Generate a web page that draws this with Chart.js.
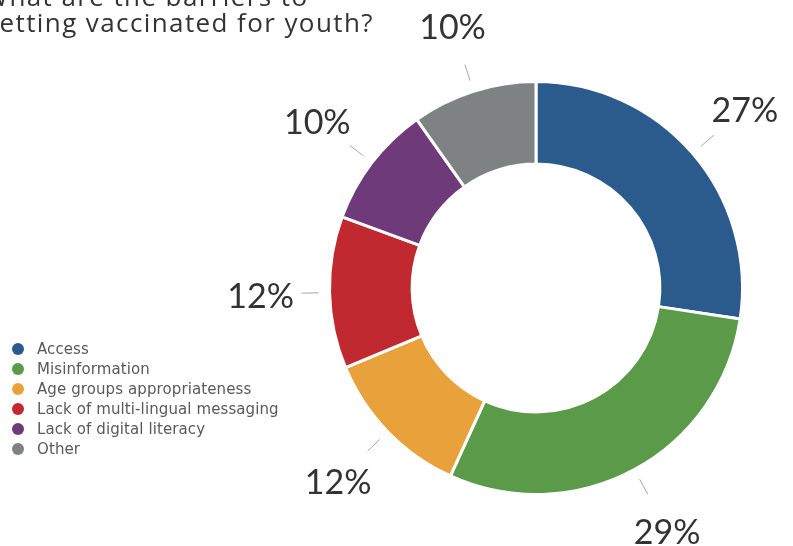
<!DOCTYPE html>
<html>
<head>
<meta charset="utf-8">
<script src="https://cdn.jsdelivr.net/npm/chart.js@4.4.1/dist/chart.umd.min.js"></script>
<style>
    html, body { margin: 0; padding: 0; background: #fff; overflow: hidden; }
    #wrap { position: relative; width: 793px; height: 546px; overflow: hidden; }
    #title {
        position: absolute; left: -16px; top: -17px;
        font-family: "Open Sans", sans-serif; font-size: 26px; line-height: 26px;
        letter-spacing: 1.4px; color: #333; white-space: nowrap;
    }
    #legend {
        position: absolute; left: 12px; top: 339px;
        font-family: "DejaVu Sans", sans-serif; font-size: 15px; color: #595959;
        letter-spacing: 0.1px; list-style: none; margin: 0; padding: 0;
    }
    #legend li { height: 20px; line-height: 20px; display: flex; align-items: center; }
    #legend span.dot { width: 12px; height: 12px; border-radius: 50%; display: inline-block; margin-right: 13px; }
</style>
</head>
<body>
<div id="wrap">
    <canvas id="barriersChart" width="793" height="546"></canvas>
    <div id="title">What are the barriers to<br>getting vaccinated for youth?</div>
    <ul id="legend"></ul>
</div>
<script>
const categories = ["Access", "Misinformation", "Age groups appropriateness", "Lack of multi-lingual messaging", "Lack of digital literacy", "Other"];
const shares = [27.4, 29.4, 11.9, 11.9, 9.6, 9.8];
const sliceColors = ["#2b5a8d", "#5b9a48", "#e9a23b", "#c0292f", "#6f3a7a", "#7e8283"];

document.addEventListener("DOMContentLoaded", () => {
    const legendEl = document.getElementById("legend");
    legendEl.innerHTML = categories.map((name, i) =>
        `<li><span class="dot" style="background:${sliceColors[i]}"></span>${name}</li>`
    ).join("");

    // percent labels outside the ring with short leader lines
    const outsideLabels = {
        id: "outsideLabels",
        afterDatasetsDraw(chart) {
            const ctx = chart.ctx;
            const arcs = chart.getDatasetMeta(0).data;
            ctx.save();
            arcs.forEach((arc, i) => {
                const mid = (arc.startAngle + arc.endAngle) / 2;
                const cx = arc.x, cy = arc.y, r = arc.outerRadius;
                const cos = Math.cos(mid), sin = Math.sin(mid);
                ctx.strokeStyle = "#a6a6a6";
                ctx.lineWidth = 1;
                ctx.beginPath();
                ctx.moveTo(cx + cos * (r + 11), cy + sin * (r + 11));
                ctx.lineTo(cx + cos * (r + 28), cy + sin * (r + 28));
                ctx.stroke();

                ctx.fillStyle = "#333";
                ctx.font = "34px Lato, sans-serif";
                ctx.textAlign = "center";
                ctx.textBaseline = "middle";
                ctx.fillText(Math.round(shares[i]) + "%", cx + cos * (r + 69), cy + sin * (r + 69) + 3);
            });
            ctx.restore();
        }
    };

    new Chart(document.getElementById("barriersChart").getContext("2d"), {
        type: "doughnut",
        data: {
            labels: categories,
            datasets: [{
                data: shares,
                backgroundColor: sliceColors,
                borderColor: "#fff",
                borderWidth: 3
            }]
        },
        options: {
            responsive: false,
            animation: false,
            cutout: "60%",
            layout: { padding: { left: 328, right: 49, top: 80, bottom: 50 } },
            plugins: {
                legend: { display: false },
                tooltip: { enabled: false }
            }
        },
        plugins: [outsideLabels]
    });
});
</script>
</body>
</html>
